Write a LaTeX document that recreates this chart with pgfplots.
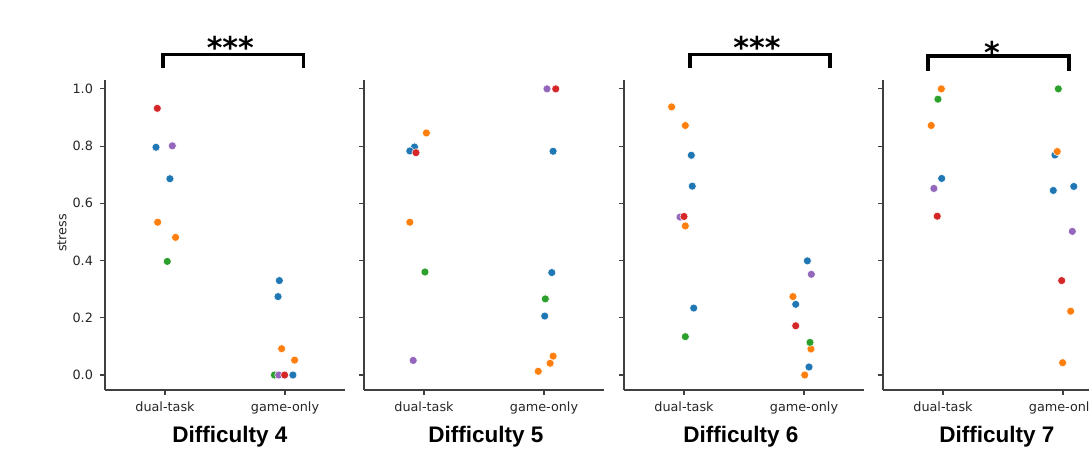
\documentclass[border=0pt]{standalone}
\usepackage{pgfplots}
\pgfplotsset{compat=1.18}
\usepackage{fontspec}
\setmainfont{DejaVu Sans}
\newfontfamily\titlefont{Liberation Sans}

\definecolor{c0}{HTML}{1F77B4}
\definecolor{c1}{HTML}{FF7F0E}
\definecolor{c2}{HTML}{2CA02C}
\definecolor{c3}{HTML}{D62728}
\definecolor{c4}{HTML}{9467BD}

\pgfplotsset{
  panel/.style={
    scale only axis, width=120pt, height=155pt, anchor=south west,
    xmin=-0.5, xmax=1.5, ymin=-0.0524, ymax=1.031,
    axis x line*=bottom, axis y line*=left,
    axis line style={black!75, line width=0.6pt},
    xtick={0,1}, xticklabels={dual-task,game-only},
    ytick={0,0.2,0.4,0.6,0.8,1.0},
    tick align=outside, major tick length=2.5pt,
    every tick/.style={black!75, line width=0.6pt},
    tick label style={font=\fontsize{6.4}{7}\selectfont, text=black!85},
    yticklabel style={/pgf/number format/.cd, fixed, fixed zerofill, precision=1},
    /pgf/number format/assume math mode=true,
    clip=false,
  },
  nolabels/.style={yticklabels={}},
  pt/.style={only marks, mark=*, mark size=2.0pt,
    mark options={fill=#1, draw=white, line width=0.25pt}},
}

\begin{document}
\begin{tikzpicture}
\useasboundingbox (0,0) rectangle (544.5pt,-225.5pt);

% Difficulty 4
\begin{axis}[panel, at={(52.5pt,-195pt)}]
  \addplot[pt=c0] coordinates {(-0.075,0.796) (0.041,0.686) (0.953,0.330) (0.942,0.274) (1.066,0)};
  \addplot[pt=c1] coordinates {(-0.061,0.534) (0.088,0.481) (0.972,0.092) (1.080,0.052)};
  \addplot[pt=c2] coordinates {(0.019,0.397) (0.912,0)};
  \addplot[pt=c4] coordinates {(0.061,0.801) (0.948,0)};
  \addplot[pt=c3] coordinates {(-0.064,0.932) (0.997,0)};
\end{axis}

% Difficulty 5
\begin{axis}[panel, nolabels, at={(182pt,-195pt)}]
  \addplot[pt=c0] coordinates {(-0.079,0.797) (-0.118,0.783) (1.076,0.782) (1.065,0.358) (1.006,0.206)};
  \addplot[pt=c1] coordinates {(0.020,0.846) (-0.118,0.534) (1.076,0.066) (1.051,0.041) (0.952,0.013)};
  \addplot[pt=c2] coordinates {(0.008,0.360) (1.011,0.266)};
  \addplot[pt=c4] coordinates {(-0.090,0.051) (1.025,1.0)};
  \addplot[pt=c3] coordinates {(-0.067,0.777) (1.098,1.0)};
\end{axis}

% Difficulty 6
\begin{axis}[panel, nolabels, at={(312pt,-195pt)}]
  \addplot[pt=c0] coordinates {(0.061,0.768) (0.069,0.660) (0.081,0.234) (1.028,0.399) (0.931,0.247) (1.042,0.028)};
  \addplot[pt=c1] coordinates {(-0.103,0.937) (0.011,0.872) (0.011,0.521) (0.908,0.274) (1.058,0.091) (1.006,0.0)};
  \addplot[pt=c2] coordinates {(0.011,0.134) (1.050,0.114)};
  \addplot[pt=c4] coordinates {(-0.033,0.552) (1.061,0.352)};
  \addplot[pt=c3] coordinates {(0.0,0.554) (0.931,0.172)};
\end{axis}

% Difficulty 7
\begin{axis}[panel, nolabels, at={(441.5pt,-195pt)}]
  \addplot[pt=c0] coordinates {(-0.011,0.687) (0.933,0.769) (1.090,0.659) (0.919,0.645)};
  \addplot[pt=c1] coordinates {(-0.014,1.0) (-0.098,0.872) (0.952,0.781) (1.064,0.223) (0.997,0.043)};
  \addplot[pt=c2] coordinates {(-0.042,0.964) (0.961,1.0)};
  \addplot[pt=c4] coordinates {(-0.076,0.652) (1.078,0.502)};
  \addplot[pt=c3] coordinates {(-0.048,0.555) (0.989,0.330)};
\end{axis}

\begin{scope}[x=0.5pt, y=-0.5pt]
  \node[rotate=90, font=\fontsize{6.4}{7}\selectfont, text=black!85] at (62,233) {stress};
  \foreach \cx/\lab in {230/4, 486/5, 741/6, 997/7}
    \node[anchor=base, font=\titlefont\bfseries\fontsize{11.25}{13}\selectfont] at (\cx,442) {Difficulty \lab};
  % significance brackets
  \draw[line width=1.6pt] (163,67.7) -- (163,54.3) -- (303.5,54.3) -- (303.5,67.7);
  \draw[line width=1.6pt] (690,67.7) -- (690,54.3) -- (830,54.3) -- (830,67.7);
  \draw[line width=1.6pt] (928,70.7) -- (928,56) -- (1069,56) -- (1069,70.7);
  \node[anchor=base, font=\bfseries\fontsize{15}{17}\selectfont] at (230.3,58.5) {***};
  \node[anchor=base, font=\bfseries\fontsize{15}{17}\selectfont] at (757,58.5) {***};
  \node[anchor=base, font=\bfseries\fontsize{15}{17}\selectfont] at (992,63) {*};
\end{scope}
\end{tikzpicture}
\end{document}
